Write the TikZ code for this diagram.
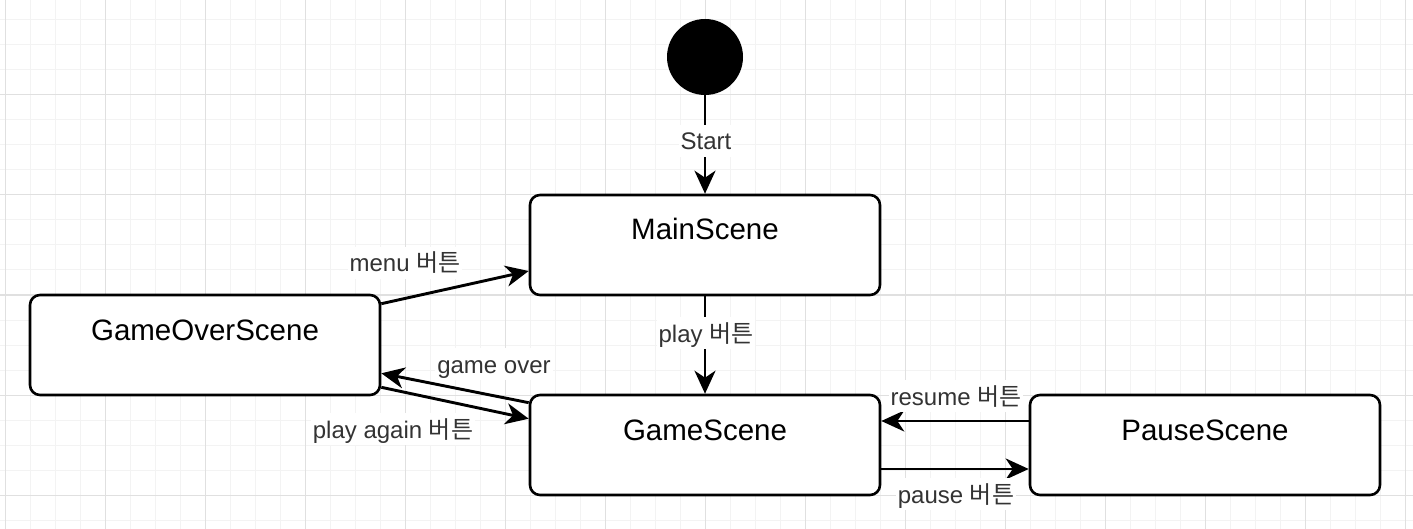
\documentclass[tikz,border=0pt]{standalone}
\usepackage{fontspec}
\setmainfont{Liberation Sans}
\newfontfamily\kr{Noto Sans CJK KR}
\usetikzlibrary{arrows.meta}
\definecolor{gmajor}{HTML}{E0E0E0}
\definecolor{gminor}{HTML}{F3F3F3}
\definecolor{lbl}{HTML}{333333}
\begin{document}
\begin{tikzpicture}[x=1pt,y=-1pt,
  scenebox/.style={draw=black, line width=2.6pt, rounded corners=10pt, minimum width=350pt, minimum height=100pt, inner sep=0pt, fill=white},
  boxtext/.style={font=\fontsize{29.5}{34}\selectfont, text=black, inner sep=0pt, text height=21pt, text depth=0pt},
  conn/.style={line width=2.9pt, -{Stealth[length=23pt,width=21pt,inset=7pt]}},
  lab/.style={fill=white, text=lbl, font=\fontsize{24}{28}\selectfont, inner xsep=2pt, inner ysep=1pt, text height=24pt, text depth=6pt, anchor=base}]
\useasboundingbox (0,0) rectangle (1413,529);
\fill[white] (0,0) rectangle (1413,529);
% grid
\foreach \x in {5,30,...,1405} \draw[gminor, line width=1pt] (\x,0) -- (\x,529);
\foreach \y in {20,45,...,520} \draw[gminor, line width=1pt] (0,\y) -- (1413,\y);
\foreach \x in {5,105,...,1405} \draw[gmajor, line width=1pt] (\x,0) -- (\x,529);
\foreach \y in {95,195,...,495} \draw[gmajor, line width=1pt] (0,\y) -- (1413,\y);
% nodes
\node[circle, fill=black, minimum size=76pt, inner sep=0pt] (start) at (705,57) {};
\node[scenebox] (main) at (705,245) {};
\node[scenebox] (gameover) at (205,345) {};
\node[scenebox] (game) at (705,445) {};
\node[scenebox] (pause) at (1205,445) {};
\node[boxtext] (maint) at ([yshift=15.5pt]main.center) {MainScene};
\node[boxtext] (gameovert) at ([yshift=15.5pt]gameover.center) {GameOverScene};
\node[boxtext] (gamet) at ([yshift=15.5pt]game.center) {GameScene};
\node[boxtext] (pauset) at ([yshift=15.5pt]pause.center) {PauseScene};
% connectors
\draw[conn] (start.south) -- (main.north);
\draw[conn] (main.south) -- (game.north);
\draw[conn] ([yshift=-10pt]gameover.north east) -- ([yshift=-26pt]main.west);
\draw[conn] ([yshift=-9pt]game.north west) -- ([yshift=23pt]gameover.south east);
\draw[conn] ([yshift=9pt]gameover.south east) -- ([yshift=-25pt]game.north west);
\draw[conn] ([yshift=24pt]pause.west) -- ([yshift=24pt]game.east);
\draw[conn] ([yshift=-24pt]game.east) -- ([yshift=-24pt]pause.west);
% labels
\node[lab] (lstart) at (706,150) {Start};
\node[lab] (lplay) at (706,342) {play {\kr 버튼}};
\node[lab] (lmenu) at (405,272) {menu {\kr 버튼}};
\node[lab] (lover) at (494,373) {game over};
\node[lab] (lagain) at (393,438) {play again {\kr 버튼}};
\node[lab] (lresume) at (956,405) {resume {\kr 버튼}};
\node[lab] (lpause) at (956,503) {pause {\kr 버튼}};
\end{tikzpicture}
\end{document}
